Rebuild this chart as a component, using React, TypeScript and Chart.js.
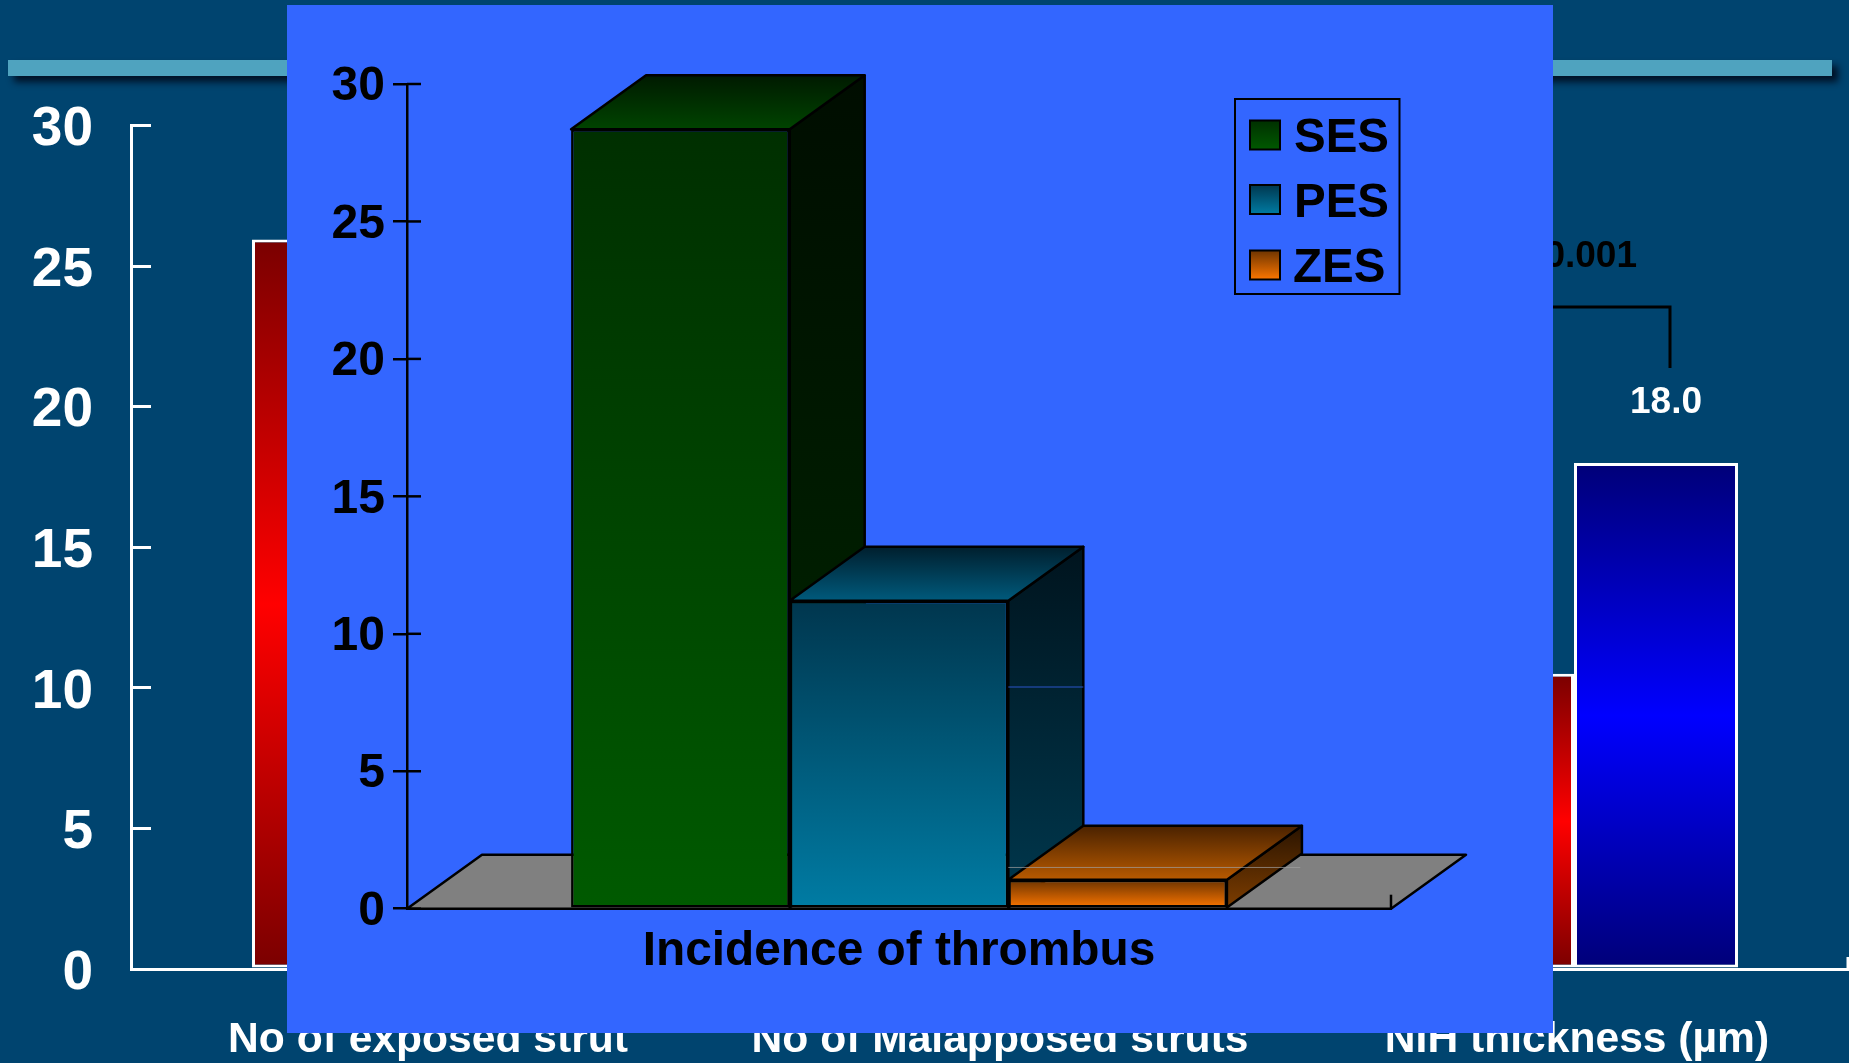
import React, { useEffect, useRef } from "react";
import { Chart, registerables } from "chart.js";

Chart.register(...registerables);

// ---------- data ----------
const outerCategories = ["No of exposed strut", "No of Malapposed struts", "NIH thickness (µm)"];
const outerRedValues = [25.95, null, 10.5];
const outerBlueValues = [null, null, 18.0];
const pValueText = "p<0.001";

const innerCategories = ["Incidence of thrombus"];
const sesValues = [28.35];
const pesValues = [11.2];
const zesValues = [1.05];
const yTicks = [0, 5, 10, 15, 20, 25, 30];

// ---------- style ----------
const FONT = '"Liberation Sans", Arial, sans-serif';
const PAGE_W = 1849;
const PAGE_H = 1063;
const PANEL = { x: 287, y: 5, w: 1266, h: 1028 };
const DEPTH = { dx: 75, dy: 54 };

const outerLabelNudgePx = [12, 5, 3];

const faces: Record<string, any> = {
  SES: { front: ["#002f00", "#005a00"], side: ["#000d00", "#002800"], top: ["#001a00", "#004400"] },
  PES: { front: ["#00364e", "#007ca4"], side: ["#00141e", "#00384e"], top: ["#001f2e", "#005a7c"] },
  ZES: { front: ["#6b3300", "#ff7700"], side: ["#2a1400", "#7d3d00"], top: ["#4a2200", "#b85a00"] },
};

function vGrad(ctx: CanvasRenderingContext2D, y0: number, y1: number, stops: string[]) {
  const g = ctx.createLinearGradient(0, y0, 0, y1);
  stops.forEach((c, i) => g.addColorStop(i / (stops.length - 1), c));
  return g;
}

function poly(ctx: CanvasRenderingContext2D, pts: number[][], fill: any, lw = 2.5) {
  ctx.beginPath();
  pts.forEach((p, i) => (i ? ctx.lineTo(p[0], p[1]) : ctx.moveTo(p[0], p[1])));
  ctx.closePath();
  ctx.fillStyle = fill;
  ctx.fill();
  ctx.lineWidth = lw;
  ctx.strokeStyle = "#000";
  ctx.lineJoin = "round";
  ctx.stroke();
}

// ---------- outer chart plugin ----------
const outerDecor = {
  id: "outerDecor",
  afterDatasetsDraw(chart: any) {
    const { ctx, scales } = chart;
    ctx.save();
    // value labels above bars
    ctx.fillStyle = "#fff";
    ctx.font = `bold 37px ${FONT}`;
    ctx.textAlign = "center";
    ctx.textBaseline = "alphabetic";
    chart.data.datasets.forEach((ds: any, di: number) => {
      chart.getDatasetMeta(di).data.forEach((el: any, i: number) => {
        const v = ds.data[i].y;
        if (v == null) return;
        ctx.fillText(v.toFixed(1), el.x + 10, el.y - 50);
      });
    });
    // significance bracket
    ctx.strokeStyle = "#000";
    ctx.lineWidth = 3;
    ctx.beginPath();
    ctx.moveTo(1500, 307);
    ctx.lineTo(1670, 307);
    ctx.lineTo(1670, 368);
    ctx.stroke();
    ctx.fillStyle = "#000";
    ctx.font = `bold 37px ${FONT}`;
    ctx.textAlign = "right";
    ctx.fillText(pValueText, 1637, 267);
    // end tick on the x axis
    ctx.strokeStyle = "#fff";
    ctx.lineWidth = 3;
    ctx.beginPath();
    ctx.moveTo(1848, scales.y.getPixelForValue(0));
    ctx.lineTo(1848, scales.y.getPixelForValue(0) - 12);
    ctx.stroke();
    ctx.restore();
  },
};

// ---------- inner chart plugin ----------
const inner3D = {
  id: "inner3D",
  beforeDatasetsDraw(chart: any) {
    const { ctx, chartArea, scales } = chart;
    const y0 = scales.y.getPixelForValue(0);
    const { dx, dy } = DEPTH;
    ctx.save();
    // floor
    poly(
      ctx,
      [
        [chartArea.left, y0],
        [chartArea.right, y0],
        [chartArea.right + dx, y0 - dy],
        [chartArea.left + dx, y0 - dy],
      ],
      "#808080",
    );
    ctx.strokeStyle = "#000";
    ctx.lineWidth = 2.5;
    ctx.beginPath();
    ctx.moveTo(chartArea.right, y0);
    ctx.lineTo(chartArea.right, y0 - 14);
    ctx.stroke();
    // side and top faces, back to front
    chart.data.datasets.forEach((ds: any, di: number) => {
      const el = chart.getDatasetMeta(di).data[0];
      const f = faces[ds.label];
      const l = el.x - el.width / 2;
      const r = el.x + el.width / 2;
      const t = el.y;
      const b = el.base;
      poly(ctx, [[r, t], [r + dx, t - dy], [r + dx, b - dy], [r, b]], vGrad(ctx, t - dy, b, f.side));
      poly(ctx, [[l, t], [r, t], [r + dx, t - dy], [l + dx, t - dy]], vGrad(ctx, t - dy, t, f.top));
    });
    ctx.restore();
  },
  afterDatasetsDraw(chart: any) {
    const { ctx, scales, chartArea } = chart;
    const yScale = scales.y;
    ctx.save();
    // right half of the crossing tick marks
    ctx.strokeStyle = "#000";
    ctx.lineWidth = 2.5;
    yScale.ticks.forEach((t: any) => {
      const y = yScale.getPixelForValue(t.value);
      ctx.beginPath();
      ctx.moveTo(chartArea.left, y);
      ctx.lineTo(chartArea.left + 14, y);
      ctx.stroke();
    });
    // faint rendering lines present on the back faces
    const metas = chart.data.datasets.map((_: any, i: number) => chart.getDatasetMeta(i).data[0]);
    const pesRight = metas[1].x + metas[1].width / 2;
    ctx.lineWidth = 1;
    ctx.strokeStyle = "rgba(160,160,160,0.7)";
    ctx.beginPath();
    ctx.moveTo(pesRight, yScale.getPixelForValue(1.5));
    ctx.lineTo(pesRight + 292, yScale.getPixelForValue(1.5));
    ctx.stroke();
    ctx.strokeStyle = "#2a55c8";
    ctx.beginPath();
    ctx.moveTo(pesRight, yScale.getPixelForValue(6.1) - DEPTH.dy);
    ctx.lineTo(pesRight + DEPTH.dx, yScale.getPixelForValue(6.1) - DEPTH.dy);
    ctx.stroke();
    ctx.restore();
  },
  afterDraw(chart: any) {
    const { ctx } = chart;
    const ox = PANEL.x;
    const oy = PANEL.y;
    ctx.save();
    ctx.strokeStyle = "#000";
    ctx.lineWidth = 2;
    ctx.strokeRect(1235 - ox, 99 - oy, 164.5, 195);
    const rows = [135, 199.5, 265];
    chart.data.datasets.forEach((ds: any, i: number) => {
      const cy = rows[i] - oy;
      const f = faces[ds.label];
      ctx.fillStyle = vGrad(ctx, cy - 15, cy + 15, f.front);
      ctx.fillRect(1250 - ox, cy - 14.5, 30, 29);
      ctx.strokeRect(1250 - ox, cy - 14.5, 30, 29);
      ctx.fillStyle = "#000";
      ctx.font = `bold 47.5px ${FONT}`;
      ctx.textAlign = "left";
      ctx.textBaseline = "alphabetic";
      ctx.fillText(ds.label, (ds.label === "ZES" ? 1293 : 1294) - ox, cy + 17);
    });
    ctx.restore();
  },
};

// Gradient that follows a bar from its value down to zero, once the y scale is laid out.
function barGradient(c: any, stops: string[]) {
  const v = c.parsed?.y;
  const sc = c.chart.scales?.y;
  if (v == null || !sc) return stops[0];
  const top = sc.getPixelForValue(v);
  const bottom = sc.getPixelForValue(0);
  if (!Number.isFinite(top) || !Number.isFinite(bottom)) return stops[0];
  return vGrad(c.chart.ctx, top, bottom, stops);
}

export default function App() {
  const outerRef = useRef<HTMLCanvasElement>(null);
  const innerRef = useRef<HTMLCanvasElement>(null);

  useEffect(() => {
    const unit = 579;
    const center0 = 416;

    const outer = new Chart(outerRef.current!, {
      type: "bar",
      data: {
        datasets: [
          {
            label: "Red",
            data: outerRedValues.map((y, x) => ({ x, y })),
            backgroundColor: (c: any) => barGradient(c, ["#7a0000", "#ff0000", "#7a0000"]),
            borderColor: "#fff",
            borderWidth: 3,
            borderSkipped: false,
          },
          {
            label: "Blue",
            data: outerBlueValues.map((y, x) => ({ x, y })),
            backgroundColor: (c: any) => barGradient(c, ["#000078", "#0000ff", "#000078"]),
            borderColor: "#fff",
            borderWidth: 3,
            borderSkipped: false,
          },
        ] as any,
      },
      options: {
        animation: false,
        responsive: false,
        layout: { padding: { top: 125.7, left: 0, right: 0, bottom: 0 } },
        datasets: { bar: { categoryPercentage: 0.5734, barPercentage: 1 } },
        plugins: { legend: { display: false }, tooltip: { enabled: false } },
        scales: {
          x: {
            type: "linear",
            offset: false,
            min: (131 - center0) / unit,
            max: (PAGE_W - center0) / unit,
            afterBuildTicks(scale: any) {
              scale.ticks = outerCategories.map((_, i) => ({ value: i + outerLabelNudgePx[i] / unit }));
            },
            border: { color: "#fff", width: 3 },
            grid: { display: false, drawTicks: false },
            ticks: {
              autoSkip: false,
              maxRotation: 0,
              minRotation: 0,
              padding: 46,
              color: "#fff",
              font: { family: FONT, size: 42.6, weight: "bold" },
              callback: (_: any, i: number) => outerCategories[i],
            },
            afterFit(scale: any) {
              scale.height = PAGE_H - 969;
            },
          },
          y: {
            min: 0,
            max: 30,
            afterBuildTicks(scale: any) {
              scale.ticks = yTicks.map((value) => ({ value }));
            },
            border: { color: "#fff", width: 3 },
            grid: { drawOnChartArea: false, color: "#fff", lineWidth: 3, tickLength: -20 },
            ticks: {
              padding: 58,
              labelOffset: 4.5,
              color: "#fff",
              font: { family: FONT, size: 55, weight: "bold" },
            },
            afterFit(scale: any) {
              scale.width = 131;
            },
          },
        },
      } as any,
      plugins: [outerDecor],
    });

    const inner = new Chart(innerRef.current!, {
      type: "bar",
      data: {
        labels: innerCategories,
        datasets: [
          { label: "SES", data: sesValues, backgroundColor: (c: any) => barGradient(c, faces.SES.front) },
          { label: "PES", data: pesValues, backgroundColor: (c: any) => barGradient(c, faces.PES.front) },
          { label: "ZES", data: zesValues, backgroundColor: (c: any) => barGradient(c, faces.ZES.front) },
        ].map((d) => ({ ...d, borderColor: "#000", borderWidth: 2.5, borderSkipped: false })) as any,
      },
      options: {
        animation: false,
        responsive: false,
        layout: { padding: { top: 79, left: 0, right: 162, bottom: 0 } },
        datasets: { bar: { categoryPercentage: 0.6665, barPercentage: 1 } },
        plugins: { legend: { display: false }, tooltip: { enabled: false } },
        scales: {
          x: {
            border: { color: "#000", width: 3 },
            grid: { display: false, drawTicks: false },
            ticks: {
              padding: 14,
              color: "#000",
              maxRotation: 0,
              font: { family: FONT, size: 47.8, weight: "bold" },
            },
            afterFit(scale: any) {
              scale.height = PANEL.h - 903.7;
            },
          },
          y: {
            min: 0,
            max: 30,
            afterBuildTicks(scale: any) {
              scale.ticks = yTicks.map((value) => ({ value }));
            },
            border: { color: "#000", width: 2.5 },
            grid: { drawOnChartArea: false, color: "#000", lineWidth: 2.5, tickLength: 14 },
            ticks: {
              padding: 8,
              labelOffset: 3,
              color: "#000",
              font: { family: FONT, size: 48, weight: "bold" },
            },
            afterFit(scale: any) {
              scale.width = 120;
            },
          },
        },
      } as any,
      plugins: [inner3D],
    });

    return () => {
      outer.destroy();
      inner.destroy();
    };
  }, []);

  return (
    <div
      style={{
        position: "absolute",
        left: 0,
        top: 0,
        width: PAGE_W,
        height: PAGE_H,
        overflow: "hidden",
        background: "#00446f",
      }}
    >
      <div
        style={{
          position: "absolute",
          left: 8,
          top: 60,
          width: 1824,
          height: 16,
          background: "#4fa3bf",
          boxShadow: "6px 6px 7px rgba(0,12,30,0.9)",
        }}
      />
      <canvas
        ref={outerRef}
        width={PAGE_W}
        height={PAGE_H}
        style={{ position: "absolute", left: 0, top: 0, width: PAGE_W, height: PAGE_H }}
      />
      <div
        style={{
          position: "absolute",
          left: PANEL.x,
          top: PANEL.y,
          width: PANEL.w,
          height: PANEL.h,
          background: "#3366ff",
        }}
      >
        <canvas
          ref={innerRef}
          width={PANEL.w}
          height={PANEL.h}
          style={{ position: "absolute", left: 0, top: 0, width: PANEL.w, height: PANEL.h }}
        />
      </div>
    </div>
  );
}
